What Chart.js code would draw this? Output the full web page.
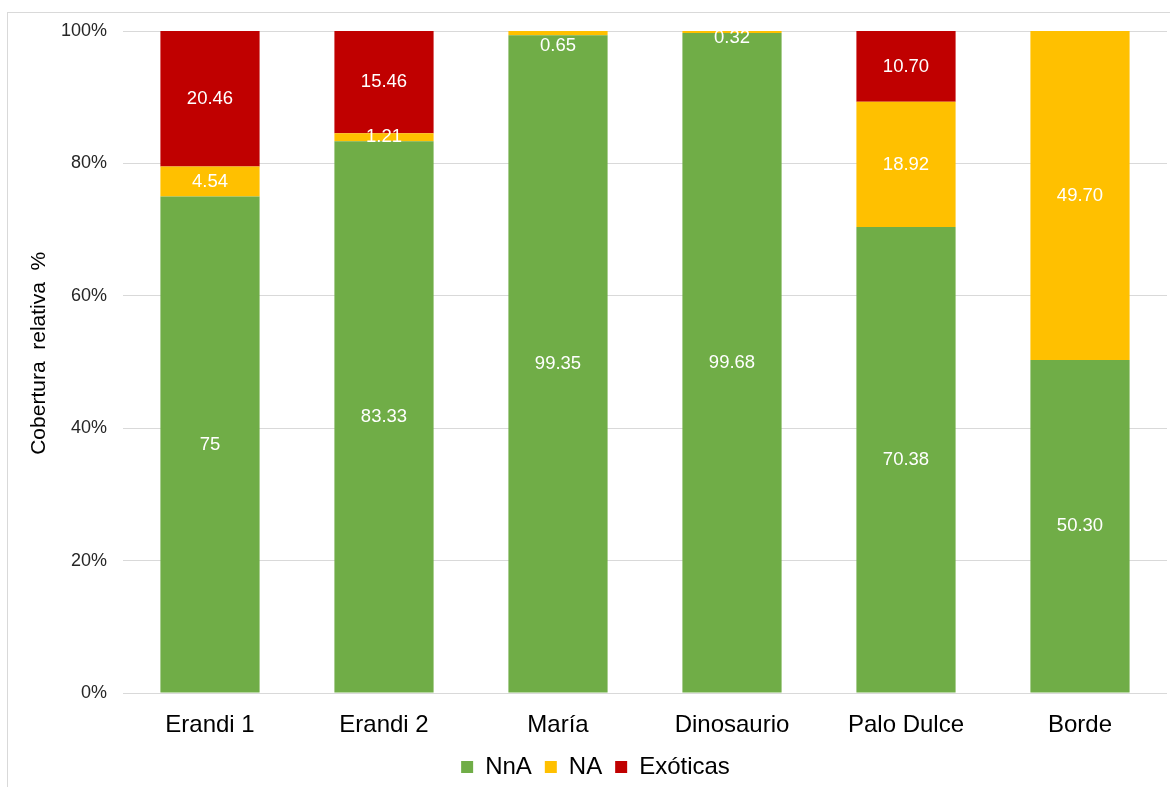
<!DOCTYPE html>
<html>
<head>
<meta charset="utf-8">
<script src="https://cdn.jsdelivr.net/npm/chart.js@4/dist/chart.umd.min.js"></script>
<style>
  html, body { margin: 0; padding: 0; background: #fff; }
  #wrap { position: relative; width: 1170px; height: 787px; overflow: hidden; }
  #frame { position: absolute; left: 7px; top: 12px; width: 1200px; height: 800px; border: 1px solid #d9d9d9; box-sizing: border-box; }
  canvas { position: absolute; left: 0; top: 0; }
</style>
</head>
<body>
<div id="wrap">
  <div id="frame"></div>
  <canvas id="chart" width="1170" height="787"></canvas>
</div>
<script>
// datos
const sitios = ['Erandi 1', 'Erandi 2', 'María', 'Dinosaurio', 'Palo Dulce', 'Borde'];
const nna = [75, 83.33, 99.35, 99.68, 70.38, 50.30];
const na = [4.54, 1.21, 0.65, 0.32, 18.92, 49.70];
const exoticas = [20.46, 15.46, 0, 0, 10.70, 0];
const yTicks = [0, 20, 40, 60, 80, 100];

const FONT = '"Liberation Sans", Arial, sans-serif';

// etiquetas blancas dentro de cada segmento
const segLabels = {
    id: 'segLabels',
    afterDatasetsDraw(chart) {
        const ctx = chart.ctx;
        const top = chart.chartArea.top;
        ctx.save();
        ctx.font = '18.5px ' + FONT;
        ctx.fillStyle = '#ffffff';
        ctx.textAlign = 'center';
        ctx.textBaseline = 'middle';
        chart.data.datasets.forEach((ds, di) => {
            chart.getDatasetMeta(di).data.forEach((bar, i) => {
                const v = ds.data[i];
                if (!v) return;
                const txt = Number.isInteger(v) ? String(v) : v.toFixed(2);
                let y = (bar.y + bar.base) / 2;
                // segmentos muy finos: texto bajado para que quepa
                if (v < 1) y = Math.max(y, top + (v > 0.5 ? 15 : 7));
                ctx.fillText(txt, bar.x, y);
            });
        });
        ctx.restore();
    }
};

const ctx = document.getElementById('chart').getContext('2d');

new Chart(ctx, {
    type: 'bar',
    data: {
        labels: sitios,
        datasets: [
            { label: 'NnA', data: nna, backgroundColor: '#70AD47' },
            { label: 'NA', data: na, backgroundColor: '#FFC000' },
            { label: 'Exóticas', data: exoticas, backgroundColor: '#C00000' }
        ]
    },
    options: {
        responsive: false,
        animation: false,
        layout: { padding: { left: 24, right: 3, top: 31, bottom: 0 } },
        datasets: { bar: { categoryPercentage: 1, barPercentage: 0.57, borderWidth: 0 } },
        plugins: {
            legend: {
                position: 'bottom',
                maxHeight: 45,
                labels: {
                    boxWidth: 12, boxHeight: 12, padding: 13,
                    color: '#000',
                    font: { family: FONT, size: 24 }
                }
            },
            tooltip: { enabled: false }
        },
        scales: {
            x: {
                stacked: true,
                afterFit: (axis) => { axis.height = 49; },
                grid: { display: false },
                border: { display: false },
                ticks: {
                    color: '#000', padding: 10,
                    font: { family: FONT, size: 24 }
                }
            },
            y: {
                stacked: true,
                min: 0, max: 100,
                afterBuildTicks: (axis) => { axis.ticks = yTicks.map(v => ({ value: v })); },
                afterFit: (axis) => { axis.width = 99; },
                grid: { color: '#d9d9d9', drawTicks: false },
                border: { display: false },
                ticks: {
                    color: '#262626', padding: 16,
                    font: { family: FONT, size: 18 },
                    callback: v => v + '%'
                },
                title: {
                    display: true,
                    text: '   Cobertura  relativa  %',
                    color: '#000',
                    padding: { top: 3, bottom: 0 },
                    font: { family: FONT, size: 21 }
                }
            }
        }
    },
    plugins: [segLabels]
});
</script>
</body>
</html>
